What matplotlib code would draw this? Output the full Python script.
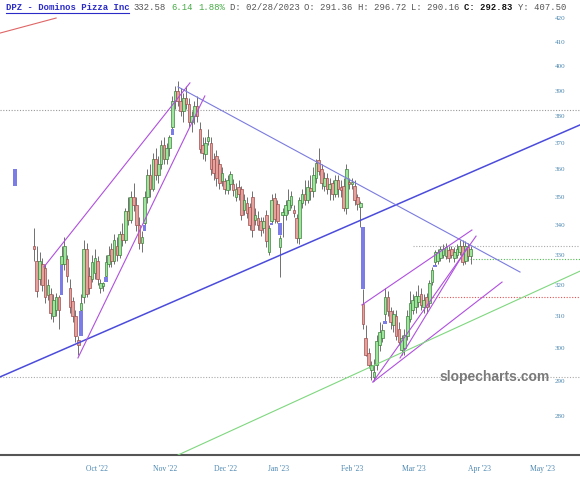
import numpy as np
import matplotlib
matplotlib.use("Agg")
import matplotlib.pyplot as plt
from matplotlib.patches import Rectangle
from matplotlib.lines import Line2D

# ---------------------------------------------------
# daily candles (one per trading day, oldest first)
# ---------------------------------------------------
opens = [333, 328, 322, 327, 325.5, 316.8, 317, 310, 312, 316,
         327, 327, 328.5, 319, 314.7, 310, 302.5, 312, 316, 332,
         323, 322, 324, 328, 319, 319.5, 323, 327, 332, 328,
         333, 330, 337, 335, 345, 342, 350, 347, 340, 334,
         341, 350, 358, 353, 364, 358, 362, 369, 364, 368,
         376, 386, 390, 386, 382, 387, 385, 378, 380, 384,
         375, 369, 365.6, 370.5, 370, 364, 365, 362, 355.7, 355.7,
         352.5, 354.8, 354.8, 350, 353.5, 352.7, 345.5, 348, 346.5, 350,
         342, 342.5, 341.5, 339.2, 343.8, 331, 341.5, 349.5, 347.5, 332.5,
         343.5, 343.8, 345.5, 347.3, 345, 342.5, 335.5, 348, 351, 349,
         353, 352, 357, 363.5, 360, 354, 357, 353, 355, 351,
         356, 353, 354, 346, 355.5, 354.5, 354, 350, 346.5, 313.8,
         303, 298.5, 293.5, 291.36, 294.9, 301, 303, 310.5, 316, 311.5,
         307, 310, 306, 299.5, 300, 303.8, 309, 312, 313, 314.5,
         317, 313, 316, 314, 321, 327.5, 328, 329, 330, 329.5,
         331.5, 332, 329, 330, 331, 333, 328, 332.5, 329.5]
highs = [339, 333, 331, 329, 327, 322, 319, 317, 317.5, 316.8,
         333, 336, 330, 322, 316, 312, 303.8, 317, 335, 334,
         326, 330, 332, 329.5, 322, 321, 330, 333, 334, 337,
         336, 338, 341, 346, 350, 352, 355, 350, 343, 338,
         352, 360, 362, 366, 368, 365, 371, 372, 370, 373,
         388, 392, 394, 391, 389, 392, 387, 382, 386, 388,
         378, 372, 372, 375, 372, 366, 367, 364, 361, 357,
         358, 359.5, 356.5, 355, 356, 354, 351, 350, 348, 352,
         346, 345, 343, 343, 345.5, 340.1, 351, 351.5, 349, 336.8,
         346, 349, 353, 352, 347, 344, 350, 353, 356, 356,
         358, 361, 364, 368, 362, 359, 358.5, 357, 356, 358,
         358, 356, 357, 362, 357, 357, 356, 351, 348.5, 318.5,
         307, 300, 296, 296.72, 304, 308, 307.5, 319, 318, 313,
         312, 312, 308, 304, 306, 312, 318, 317, 318, 320,
         319, 317, 317.5, 321.5, 326, 331.5, 332, 333, 333.5, 334,
         333, 333, 332.5, 333.5, 335, 335, 334.5, 334, 333]
lows = [328, 316, 320, 318, 314, 315, 309, 308, 310, 306,
        326.5, 325, 321, 311, 308, 302, 297.9, 311.6, 314, 316,
        317, 321, 322, 320, 317.5, 318, 322.6, 326, 326, 327,
        328, 329, 333, 334, 340, 341, 345, 338, 332, 331,
        340, 348, 350, 352, 356, 355, 360, 362, 362, 365,
        375, 383, 384, 380, 378, 383, 376, 374, 377, 378,
        366, 364, 363, 369, 358, 356, 354, 353, 354, 351,
        351, 352.5, 350.5, 348.5, 349, 342, 343.5, 342.5, 338.5, 336,
        340, 338.5, 336.5, 337.5, 332.5, 329.8, 340.8, 341, 340.8, 322.6,
        336, 342, 344, 346, 343, 334, 333.5, 346, 347, 348,
        349, 350, 355, 358, 353, 352, 351, 349, 349, 350,
        350, 350, 345, 344, 353, 353, 347, 345.5, 339.6, 306,
        297.5, 294, 290.5, 290.16, 293.5, 299, 302, 308.5, 310, 306,
        305, 302.5, 301, 297.9, 298, 302.5, 308, 310.5, 311, 313,
        312, 311, 311, 313, 320, 326.5, 327, 328, 329, 328.5,
        327.5, 329, 327.5, 329, 330, 326.5, 327, 328, 327]
closes = [332, 318, 328, 320, 316, 320, 311, 315, 316, 312,
          329.5, 333, 323, 313, 310, 303.8, 301, 314, 332, 317,
          319, 327.5, 329, 322, 320.5, 320, 327.5, 330, 328, 335,
          330, 337, 335, 345, 342, 350, 347, 340, 334, 336,
          350, 358, 353, 364, 358, 362, 369, 364, 368, 372,
          386, 390, 386, 382, 387, 385, 378, 380, 384, 380,
          367.5, 366, 370, 372, 360, 358.5, 357, 355, 358.8, 353,
          356, 358.3, 352.5, 353, 351, 343.8, 349, 344.3, 340, 338.3,
          343.8, 340, 338.3, 341.5, 334.5, 339, 348.8, 342.2, 341.5, 335.8,
          344.3, 347, 349, 350.5, 344.3, 335.5, 349, 351, 349, 353.5,
          352, 358, 362.5, 359.5, 355, 357, 353, 354.5, 351, 356,
          353, 352.5, 346, 360, 354.5, 355.5, 349, 347.5, 347.7, 307.5,
          298, 294.9, 294.9, 292.83, 302.3, 305, 305.5, 316, 311.5, 308,
          310.5, 303.8, 302, 303, 304, 310, 314, 315, 316.3, 316.5,
          313.5, 315, 313, 320.5, 325, 330.8, 331, 332, 332, 332.5,
          329, 330, 331, 332, 333, 327.5, 333, 329.5, 332]

# gap marker left of the first candle (index, low, high)
extra_gaps = [(-7, 354, 360)]

# month labels and the candle index they sit under
month_labels = ["Oct '22", "Nov '22", "Dec '22", "Jan '23",
                "Feb '23", "Mar '23", "Apr '23", "May '23"]
month_pos = [22.8, 47.4, 69.4, 88.6, 115.0, 137.4, 161.2, 184.1]

price_ticks = list(range(280, 421, 10))

# trend lines drawn on the chart: (x0, p0, x1, p1, colour, width)
trend_lines = [
    (-12.3, 413.7, 8.0, 420.1, "#e06666", 0.8),
    (-12.3, 291.3, 197.5, 376.7, "#4b4bdc", 1.1),
    (52.1, 391.6, 175.8, 324.2, "#7b7be0", 0.8),
    (3.6, 325.9, 56.4, 393.2, "#b050e0", 0.8),
    (15.9, 297.0, 61.8, 388.0, "#b050e0", 0.8),
    (118.6, 313.5, 158.4, 338.4, "#b050e0", 0.8),
    (122.6, 289.8, 159.9, 336.3, "#b050e0", 0.8),
    (132.4, 297.0, 156.6, 332.3, "#b050e0", 0.8),
    (122.6, 289.8, 169.3, 320.9, "#b050e0", 0.8),
    (52.1, 269.0, 197.5, 324.5, "#7fd77f", 0.8),
]

# dotted horizontal levels: (price, x start, colour)
levels = [
    (382.5, -12.3, "#999999"),
    (332.9, 137.0, "#aaaaaa"),
    (328.7, 157.7, "#55bb55"),
    (316.1, 143.2, "#e05555"),
    (291.4, -12.3, "#aaaaaa"),
]

up_fill, up_edge = "#9be69a", "#3f7f3f"
dn_fill, dn_edge = "#e8a09b", "#9a4f4f"
gap_col = "#7c7ce6"

fig = plt.figure(figsize=(5.8, 4.8), dpi=100)
ax = fig.add_axes([0, 25 / 480, 1, 440 / 480])
ax.set_yscale("log")

x_min, x_max = -12.3, 197.5
ax.set_xlim(x_min, x_max)
ax.set_ylim(269.0, 421.4)

w = 0.95
gw = 1.25
for i in range(len(closes)):
    o, h, l, c = opens[i], highs[i], lows[i], closes[i]
    up = c >= o
    ax.vlines(i, l, h, color="#707070", lw=0.7, zorder=2)
    bot, top = min(o, c), max(o, c)
    if top / bot < 1.003:
        top = bot * 1.003
    ax.add_patch(Rectangle((i - w / 2, bot), w, top - bot,
                           facecolor=up_fill if up else dn_fill,
                           edgecolor=up_edge if up else dn_edge,
                           lw=0.5, zorder=3))
    # gap boxes
    if i > 0:
        if l > highs[i - 1]:
            ax.add_patch(Rectangle((i - gw / 2, highs[i - 1]), gw, l - highs[i - 1],
                                   facecolor=gap_col, edgecolor="none", zorder=3))
        elif h < lows[i - 1]:
            ax.add_patch(Rectangle((i - gw / 2, h), gw, lows[i - 1] - h,
                                   facecolor=gap_col, edgecolor="none", zorder=3))

for gx, glo, ghi in extra_gaps:
    ax.add_patch(Rectangle((gx - 0.7, glo), 1.4, ghi - glo,
                           facecolor=gap_col, edgecolor="none", zorder=3))

for x0, p0, x1, p1, col, lw in trend_lines:
    ax.plot([x0, x1], [p0, p1], color=col, lw=lw, zorder=4)

for p, xs, col in levels:
    ax.plot([xs, x_max], [p, p], color=col, lw=0.8, ls=(0, (1, 1.5)), zorder=1)

# axes styling
for s in ["top", "left", "right"]:
    ax.spines[s].set_visible(False)
ax.spines["bottom"].set_color("#555555")
ax.spines["bottom"].set_linewidth(1.5)

ax.yaxis.set_minor_locator(matplotlib.ticker.NullLocator())
ax.set_yticks(price_ticks)
ax.set_yticklabels([str(t) for t in price_ticks])
ax.tick_params(axis="y", left=False, right=False, labelleft=False, labelright=True,
               length=0, pad=-14.4, labelsize=5, labelcolor="#4a86b0")
for t in ax.get_yticklabels():
    t.set_horizontalalignment("center")
    t.set_family("Liberation Serif")

ax.set_xticks(month_pos)
ax.set_xticklabels(month_labels)
ax.tick_params(axis="x", length=0, pad=7, labelsize=5.5, labelcolor="#4a86b0")
for t in ax.get_xticklabels():
    t.set_family("Liberation Serif")

# watermark
ax.text(550 / 580, (480 - 377 - 25) / 440, "slopecharts.com", transform=ax.transAxes,
        ha="right", va="center", fontsize=10, fontweight="bold",
        color="#7a7a7a", family="Liberation Sans", zorder=5)

# header line, monospace so each field sits at a character offset
hy = 1 - 8 / 480
cw = 5.33
head = [
    (0, "DPZ - Dominos Pizza Inc", "#2b2bc8", "bold"),
    (24, "332.58", "#555555", "normal"),
    (31, "6.14", "#44aa44", "normal"),
    (36, "1.88%", "#44aa44", "normal"),
    (42, "D: 02/28/2023", "#555555", "normal"),
    (56, "O: 291.36", "#555555", "normal"),
    (66, "H: 296.72", "#555555", "normal"),
    (76, "L: 290.16", "#555555", "normal"),
    (86, "C: 292.83", "#111111", "bold"),
    (96, "Y: 407.50", "#555555", "normal"),
]
for n, txt, col, fw in head:
    fig.text((6 + n * cw) / 580, hy, txt, ha="left", va="center", fontsize=6.4,
             family="Liberation Mono", color=col, fontweight=fw)
fig.add_artist(Line2D([6 / 580, (6 + 23 * cw) / 580], [1 - 13 / 480, 1 - 13 / 480],
                      color="#2b2bc8", lw=0.8))

fig.savefig("out.png", dpi=100, facecolor="white")
